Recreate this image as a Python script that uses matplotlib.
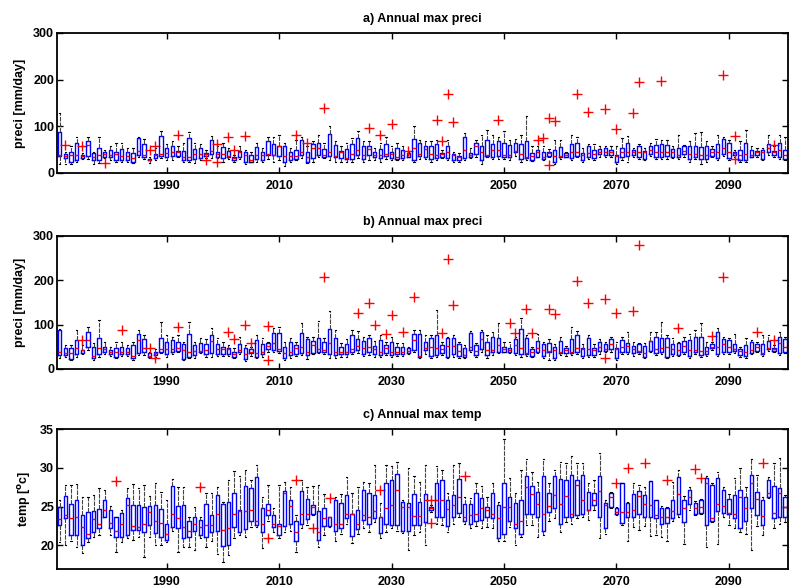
import matplotlib
matplotlib.use('Agg')
import matplotlib.pyplot as plt

plt.rcParams['font.family'] = ['Liberation Sans', 'DejaVu Sans']
plt.rcParams['font.weight'] = 'bold'
plt.rcParams['axes.titleweight'] = 'bold'
plt.rcParams['axes.labelweight'] = 'bold'
plt.rcParams['font.size'] = 9

years = list(range(1971, 2101))

# a) annual max precipitation, box statistics per year [mm/day]
a_lo = [19, 19, 19, 24, 29, 29, 19, 21, 32, 28, 23, 23, 23, 21, 34, 29, 21, 27, 32, 27,
        28, 34, 23, 24, 21, 28, 32, 32, 32, 24, 29, 24, 29, 19, 23, 24, 23, 29, 23, 28,
        16, 23, 27, 32, 21, 24, 34, 32, 28, 24, 24, 24, 24, 32, 24, 28, 28, 24, 29, 27,
        27, 28, 34, 24, 29, 29, 24, 27, 32, 27, 24, 23, 28, 32, 34, 19, 34, 29, 29, 29,
        27, 37, 23, 28, 26, 34, 27, 34, 19, 29, 34, 27, 34, 23, 29, 28, 35, 34, 34, 19,
        28, 23, 35, 29, 27, 37, 29, 29, 29, 32, 29, 35, 23, 29, 19, 24, 34, 27, 37, 28,
        35, 24, 23, 34, 35, 27, 39, 35, 29, 27]
a_q1 = [37, 32, 24, 28, 32, 37, 27, 27, 35, 35, 27, 28, 28, 24, 39, 35, 27, 32, 37, 35,
        37, 37, 28, 28, 30, 32, 37, 41, 35, 33, 35, 28, 34, 24, 24, 30, 27, 39, 39, 37,
        24, 27, 30, 39, 24, 32, 39, 35, 37, 34, 32, 30, 30, 39, 30, 39, 34, 32, 37, 32,
        30, 32, 35, 28, 37, 35, 30, 32, 35, 32, 28, 27, 32, 35, 41, 28, 37, 35, 37, 35,
        35, 44, 30, 32, 28, 35, 30, 37, 24, 34, 35, 32, 37, 27, 35, 32, 41, 39, 39, 24,
        35, 37, 39, 35, 30, 41, 34, 35, 37, 35, 35, 41, 30, 35, 30, 30, 37, 32, 41, 32,
        39, 28, 27, 35, 39, 30, 46, 39, 35, 30]
a_med = [38, 37, 39, 39, 37, 59, 35, 39, 41, 39, 41, 37, 37, 33, 48, 39, 28, 39, 41, 42,
         46, 46, 35, 35, 40, 41, 40, 48, 41, 41, 37, 33, 44, 39, 27, 39, 39, 41, 39, 57,
         37, 37, 37, 46, 35, 53, 53, 39, 46, 37, 44, 32, 41, 50, 39, 51, 39, 39, 41, 41,
         35, 39, 41, 53, 41, 51, 41, 39, 41, 46, 39, 35, 50, 39, 57, 46, 39, 50, 50, 39,
         39, 48, 41, 35, 37, 44, 35, 42, 37, 37, 39, 46, 46, 39, 42, 41, 46, 44, 46, 37,
         46, 46, 46, 46, 44, 50, 46, 46, 46, 46, 39, 48, 41, 41, 39, 39, 44, 44, 53, 46,
         42, 39, 41, 39, 44, 46, 53, 44, 50, 39]
a_q3 = [88, 41, 46, 64, 39, 68, 42, 53, 45, 50, 46, 51, 44, 42, 75, 63, 30, 40, 80, 53,
        57, 48, 48, 75, 51, 53, 42, 71, 46, 55, 48, 35, 48, 44, 39, 55, 46, 68, 63, 57,
        57, 44, 50, 71, 44, 63, 64, 51, 84, 60, 48, 51, 63, 75, 57, 58, 46, 51, 63, 46,
        53, 50, 42, 73, 64, 58, 57, 63, 42, 57, 41, 37, 78, 42, 64, 57, 71, 63, 68, 65,
        60, 65, 63, 68, 42, 50, 46, 46, 50, 55, 42, 63, 65, 42, 57, 50, 51, 53, 50, 39,
        53, 65, 50, 57, 48, 57, 60, 63, 60, 51, 53, 57, 58, 57, 55, 57, 51, 63, 73, 64,
        46, 50, 65, 50, 48, 50, 63, 48, 64, 50]
a_hi = [129, 46, 58, 77, 42, 77, 46, 77, 50, 57, 64, 64, 53, 53, 78, 73, 34, 53, 91, 63,
        68, 57, 64, 87, 64, 63, 50, 80, 57, 64, 53, 39, 57, 50, 44, 64, 53, 78, 77, 82,
        64, 53, 71, 78, 57, 68, 82, 64, 101, 68, 57, 64, 75, 89, 68, 68, 53, 64, 77, 57,
        64, 57, 44, 100, 71, 68, 68, 71, 50, 71, 46, 42, 86, 53, 71, 82, 93, 82, 77, 89,
        71, 73, 82, 122, 57, 57, 57, 51, 71, 71, 46, 82, 78, 53, 63, 63, 58, 57, 57, 57,
        75, 80, 53, 63, 53, 64, 73, 71, 71, 57, 82, 60, 68, 86, 87, 68, 57, 82, 78, 71,
        50, 68, 93, 57, 53, 53, 82, 57, 82, 78]
a_out_year = [1972, 1975, 1979, 1987, 1988, 1992, 1997, 1999, 1999, 2001, 2002, 2004,
              2013, 2015, 2018, 2026, 2028, 2030, 2033, 2038, 2039, 2040, 2041, 2049,
              2056, 2057, 2058, 2058, 2059, 2063, 2065, 2068, 2070, 2073, 2074, 2078,
              2089, 2091, 2091, 2098]
a_out_val = [60, 58, 21, 50, 57, 82, 28, 63, 23, 77, 50, 80,
             82, 65, 140, 96, 82, 104, 47, 114, 68, 170, 109, 114,
             71, 75, 118, 17, 111, 170, 130, 137, 94, 129, 195, 197,
             211, 80, 30, 60]

# b) annual max precipitation, second series [mm/day]
b_lo = [25.5, 28, 20, 28, 33, 43, 20, 28, 33, 30, 25.5, 30, 30, 20, 31.5, 31.5, 24, 28, 35, 28,
        33, 37.5, 20, 24, 25.5, 35, 28, 28, 30, 30, 30, 24, 33, 18, 30, 24, 28, 39, 39, 35,
        20, 25.5, 30, 31.5, 22.5, 33, 35, 33, 24, 25.5, 28, 28, 33, 35, 30, 31.5, 28, 28, 31.5, 28,
        30, 30, 33, 39, 24, 33, 24, 28, 31.5, 25.5, 28, 25.5, 24, 39, 28, 39, 25.5, 31.5, 35, 37.5,
        35, 31.5, 28, 30, 28, 35, 25.5, 20, 20, 31.5, 30, 31.5, 33, 25.5, 28, 28, 33, 37.5, 39, 20,
        33, 33, 30, 33, 24, 37.5, 31.5, 33, 24, 30, 30, 33, 25.5, 33, 28, 30, 43, 30, 33, 33,
        35, 28, 25.5, 33, 37.5, 30, 40.5, 37.5, 31.5, 35]
b_q1 = [31.5, 31.5, 22.5, 33, 35, 50, 24, 33, 37.5, 33, 28, 33, 33, 24, 35, 37.5, 28, 31.5, 39, 33,
        39, 40.5, 22.5, 28, 31.5, 39, 33, 35, 33, 33, 33, 28, 39, 22.5, 35, 28, 33, 45, 43, 40.5,
        24, 31.5, 33, 35, 31.5, 35, 39, 39, 33, 31.5, 33, 33, 37.5, 43, 33, 37.5, 33, 31.5, 35, 31.5,
        33, 33, 35, 43, 28, 43, 30, 31.5, 35, 28, 33, 30, 28, 43, 31.5, 45, 31.5, 37.5, 39, 39,
        39, 35, 33, 33, 30, 39, 30, 37.5, 25, 35, 35, 35, 37.5, 30, 31.5, 31.5, 40.5, 40.5, 45, 24,
        39, 37.5, 35, 37.5, 28, 40.5, 35, 37.5, 28, 33, 31.5, 37.5, 30, 39, 31.5, 33, 46.5, 33, 39, 37.5,
        40.5, 31.5, 30, 35, 40.5, 33, 45, 40.5, 35, 39]
b_med = [37.5, 35, 35, 46.5, 43, 65, 30, 46.5, 45, 39, 39, 39, 39, 30, 65, 46.5, 30, 35, 45, 45,
         45, 48, 43, 39, 40.5, 40.5, 43, 63, 45, 45, 45, 33, 43, 33, 39, 35, 39, 52.5, 58, 45,
         35, 39, 46.5, 50, 39, 54, 45, 43, 58, 37.5, 39, 37.5, 45, 52.5, 46.5, 50, 45, 37.5, 48, 39,
         39, 39, 40.5, 65, 30, 46.5, 50, 48, 45, 52.5, 52.5, 40.5, 31.5, 50, 40.5, 67, 43, 43, 54, 45,
         43, 54, 48, 35, 39, 48, 43, 40.5, 43, 39, 43, 39, 48, 45, 45, 43, 50, 45, 55.5, 45,
         50, 52.5, 45, 40.5, 35, 63, 45, 46.5, 50, 45, 43, 52.5, 43, 43, 40.5, 40.5, 50, 50, 55.5, 50,
         45, 40.5, 39, 43, 50, 35, 48, 45, 58, 50]
b_q3 = [88, 48, 48, 65, 43, 84, 50, 70, 50, 43, 48, 50, 48, 54, 80, 67, 35, 39, 69, 61.5,
        65, 61.5, 55.5, 80, 54, 58, 55.5, 76.5, 55.5, 50, 48, 39, 55.5, 48, 45, 65, 55.5, 58, 82, 82,
        50, 61.5, 54, 82, 67, 63, 70, 61.5, 90, 70, 50, 55.5, 76.5, 67, 63, 69, 52.5, 65, 54, 61.5,
        50, 50, 46.5, 80, 80, 61.5, 69, 76.5, 54, 69, 70, 55.5, 46.5, 82, 54, 84, 61.5, 73, 69, 50,
        46.5, 67, 90, 69, 45, 64, 55.5, 58, 50, 63, 46.5, 67, 76.5, 48, 70, 48, 60, 55.5, 67, 48,
        65, 58, 52.5, 55.5, 52.5, 63, 73, 70.5, 69, 55.5, 58, 63, 65, 73, 73, 50, 55.5, 84, 67, 65,
        55.5, 45, 54, 61.5, 55.5, 55.5, 63, 48, 73, 67]
b_hi = [90, 54, 54, 88, 54, 95, 58, 110, 61.5, 50, 61.5, 61.5, 54, 61.5, 88, 76.5, 39, 45, 106, 76.5,
        73, 76.5, 61.5, 106, 61.5, 69, 67.5, 93, 69, 61.5, 54, 46.5, 73, 54, 50, 76.5, 69, 61.5, 92, 95,
        61.5, 69, 61.5, 103, 73, 73, 108, 69, 130, 88, 58, 67.5, 88, 85, 73, 76.5, 63, 76.5, 61.5, 73,
        58, 58, 50, 88, 88, 76.5, 76.5, 133, 61.5, 73, 76.5, 61.5, 54, 85.5, 58, 88, 76.5, 84, 103, 61.5,
        61.5, 72, 114, 76.5, 50, 78, 61.5, 67.5, 55.5, 73, 52.5, 95, 85.5, 55.5, 76.5, 55.5, 67.5, 61.5, 73, 61.5,
        73, 84, 61.5, 58, 58, 84, 82.5, 106, 76.5, 69, 61.5, 73, 78, 88, 103, 61.5, 61.5, 92, 73, 69,
        80, 50, 69, 65, 61.5, 76.5, 76.5, 54, 84, 73]
b_out_year = [1975, 1982, 1987, 1988, 1992, 2001, 2002, 2004, 2005, 2008, 2008, 2018,
              2024, 2026, 2027, 2029, 2030, 2032, 2034, 2039, 2040, 2041, 2051, 2052,
              2054, 2055, 2058, 2059, 2063, 2065, 2068, 2068, 2070, 2073, 2074, 2081,
              2087, 2089, 2095, 2098]
b_out_val = [65, 88, 48, 24, 95, 84, 67, 99, 58, 97, 20, 208,
             127, 148, 99, 78, 122, 84, 163, 82, 247, 145, 103, 82,
             136, 82, 136, 125, 198, 148, 157, 24, 127, 130, 280, 92,
             74, 208, 84, 65]

# c) annual max temperature [deg C]
c_lo = [20.4, 20.1, 20.6, 19.8, 19.0, 20.4, 21.1, 21.3, 23.6, 21.3, 19.1, 20.4, 21.0, 20.7, 21.1, 18.5, 21.1, 20.0, 20.1, 20.4,
        21.9, 19.1, 19.8, 19.8, 19.4, 20.9, 19.8, 20.6, 18.9, 17.9, 18.7, 21.0, 21.3, 21.1, 22.4, 22.4, 19.6, 23.2, 21.7, 20.9,
        21.7, 21.9, 19.1, 22.2, 22.6, 23.9, 19.8, 21.3, 22.4, 20.6, 21.5, 22.8, 20.3, 21.5, 22.2, 21.7, 23.0, 21.0, 21.7, 22.2,
        21.9, 21.6, 19.4, 21.3, 21.7, 20.0, 24.3, 22.8, 22.6, 21.7, 22.8, 23.7, 22.8, 22.2, 22.5, 22.2, 22.4, 22.2, 20.6, 20.6,
        22.4, 20.0, 21.1, 22.6, 22.6, 21.1, 21.3, 23.2, 23.5, 21.7, 23.0, 22.8, 23.5, 23.7, 23.3, 24.5, 20.9, 21.5, 24.8, 23.9,
        22.6, 20.6, 22.4, 22.0, 22.5, 21.2, 21.3, 21.1, 20.6, 23.2, 23.7, 20.2, 24.5, 23.9, 24.0, 19.8, 23.0, 20.2, 23.6, 22.6,
        22.2, 21.7, 21.5, 19.4, 22.5, 21.3, 26.1, 22.2, 22.8, 23.0]
c_q1 = [22.6, 23.5, 21.3, 21.3, 20.1, 21.0, 21.7, 22.3, 23.7, 22.2, 21.1, 21.1, 21.3, 22.0, 22.0, 21.7, 22.6, 21.6, 21.1, 20.7,
        22.4, 22.2, 20.9, 21.1, 21.9, 21.3, 21.1, 21.7, 21.9, 19.9, 20.1, 22.4, 21.7, 22.1, 23.2, 22.6, 21.7, 23.9, 22.4, 21.3,
        22.5, 22.7, 20.6, 22.7, 23.4, 24.0, 20.7, 22.5, 22.5, 21.9, 22.3, 23.5, 21.2, 22.1, 23.3, 22.8, 23.5, 21.6, 22.8, 22.6,
        22.6, 21.8, 21.9, 22.6, 22.6, 23.0, 24.5, 23.6, 23.6, 22.5, 23.6, 24.2, 23.2, 22.7, 23.2, 23.3, 23.7, 23.5, 20.9, 21.5,
        23.2, 22.2, 21.5, 24.1, 24.1, 23.6, 21.9, 24.3, 24.8, 22.8, 23.7, 23.6, 23.9, 24.1, 24.5, 25.2, 23.6, 22.2, 24.9, 24.1,
        22.9, 23.6, 23.7, 24.0, 23.7, 23.6, 23.5, 22.7, 22.9, 23.5, 24.1, 23.0, 25.3, 24.1, 24.2, 22.6, 23.2, 24.4, 24.2, 24.1,
        23.5, 22.3, 23.2, 24.8, 23.9, 22.6, 26.2, 23.5, 23.6, 23.7]
c_med = [23.4, 23.9, 23.5, 23.6, 22.4, 21.5, 23.4, 22.8, 24.5, 22.9, 21.9, 22.7, 25.2, 22.5, 22.4, 22.8, 24.3, 23.2, 22.9, 21.5,
         24.0, 23.5, 22.4, 21.9, 22.7, 22.4, 22.6, 22.6, 24.0, 22.0, 22.2, 24.1, 24.4, 24.4, 24.5, 23.1, 22.7, 24.6, 22.8, 22.5,
         26.7, 25.1, 21.7, 24.1, 24.1, 25.0, 21.7, 23.5, 23.6, 22.7, 22.7, 24.0, 24.0, 22.8, 23.9, 23.7, 24.4, 23.7, 24.8, 25.2,
         27.2, 25.0, 25.0, 23.8, 23.8, 25.8, 24.8, 25.8, 25.9, 24.7, 25.2, 26.3, 23.7, 23.9, 24.1, 24.8, 24.5, 24.0, 23.5, 24.9,
         24.9, 22.8, 23.2, 27.5, 26.6, 25.3, 24.1, 25.1, 26.5, 25.4, 26.4, 24.0, 27.8, 25.9, 24.6, 25.8, 27.0, 25.2, 26.3, 24.3,
         24.3, 24.3, 24.5, 26.4, 25.3, 25.2, 23.9, 23.7, 23.7, 24.4, 26.6, 24.8, 26.2, 24.8, 24.9, 28.0, 23.5, 25.3, 25.1, 24.2,
         24.0, 26.2, 24.8, 28.0, 26.0, 23.8, 26.8, 24.2, 26.7, 25.0]
c_q3 = [25.0, 26.4, 25.3, 25.8, 23.9, 24.3, 24.4, 24.7, 25.8, 24.5, 23.7, 24.2, 26.1, 25.2, 25.2, 25.0, 25.1, 25.2, 24.7, 22.7,
        27.7, 25.1, 25.2, 23.2, 23.7, 23.3, 25.3, 23.9, 26.5, 25.3, 25.6, 26.8, 24.5, 27.7, 27.4, 28.8, 24.8, 25.3, 23.9, 22.8,
        27.0, 25.9, 23.1, 27.0, 26.0, 25.2, 24.4, 24.8, 23.6, 25.8, 25.5, 26.5, 24.1, 24.5, 27.1, 26.8, 26.5, 23.7, 28.1, 28.5,
        29.2, 25.6, 25.5, 26.6, 25.6, 26.6, 25.0, 28.0, 28.5, 25.9, 26.5, 28.6, 25.3, 25.3, 26.7, 26.1, 25.0, 26.8, 25.2, 28.1,
        26.2, 25.5, 25.9, 28.9, 27.7, 26.9, 29.0, 26.7, 28.9, 28.6, 28.4, 29.1, 28.4, 29.1, 26.9, 26.8, 29.0, 25.5, 26.7, 24.8,
        28.0, 25.5, 26.6, 27.0, 26.5, 28.3, 25.8, 24.8, 24.8, 25.9, 28.8, 25.8, 27.2, 25.5, 25.8, 28.7, 27.8, 28.7, 27.1, 26.0,
        26.5, 27.1, 26.3, 29.1, 26.9, 25.9, 28.4, 27.7, 27.4, 26.3]
c_hi = [25.8, 27.8, 27.8, 27.9, 26.3, 26.3, 26.5, 27.4, 27.2, 25.1, 23.7, 24.5, 27.4, 27.9, 27.4, 27.8, 26.4, 28.0, 26.9, 25.9,
        28.6, 27.5, 27.5, 23.7, 25.0, 23.7, 26.7, 26.7, 27.5, 25.6, 28.4, 29.6, 29.0, 29.7, 28.5, 30.4, 26.3, 27.8, 24.8, 27.8,
        28.2, 27.5, 23.9, 28.4, 27.5, 27.7, 27.8, 26.6, 23.7, 26.3, 26.6, 28.8, 26.8, 27.5, 28.2, 28.0, 30.4, 25.5, 30.4, 30.2,
        30.8, 25.8, 30.0, 28.9, 28.2, 30.4, 25.2, 30.2, 29.7, 26.7, 30.4, 30.7, 26.3, 26.1, 28.0, 27.7, 26.3, 28.0, 25.6, 33.7,
        28.7, 26.7, 29.7, 31.1, 29.5, 28.2, 31.1, 28.1, 29.7, 30.8, 30.6, 31.6, 30.6, 30.6, 28.1, 28.4, 31.9, 25.8, 26.9, 25.0,
        28.1, 25.6, 28.0, 27.8, 27.5, 28.3, 25.8, 25.1, 25.0, 28.2, 29.7, 26.4, 27.5, 25.7, 26.0, 28.9, 28.0, 29.5, 27.5, 26.6,
        28.7, 30.0, 27.6, 31.1, 29.1, 26.3, 28.8, 30.6, 31.3, 26.5]
c_out_year = [1981, 1996, 2008, 2013, 2016, 2019, 2028, 2037, 2037, 2043,
              2070, 2072, 2075, 2079, 2084, 2085, 2096]
c_out_val = [28.3, 27.5, 20.9, 28.5, 22.2, 26.1, 27.1, 25.8, 22.9, 28.9,
             28.1, 30.0, 30.7, 28.4, 29.9, 28.7, 30.7]


def make_stats(lo, q1, med, q3, hi, out_year, out_val):
    stats = []
    for k, yr in enumerate(years):
        fl = [v for y, v in zip(out_year, out_val) if y == yr]
        stats.append(dict(whislo=lo[k], q1=q1[k], med=med[k], q3=q3[k],
                          whishi=hi[k], fliers=fl))
    return stats


def draw_panel(ax, stats, title, ylabel, ylim, yticks):
    ax.bxp(stats, positions=years, widths=0.6, capwidths=0.25,
           showfliers=True, manage_ticks=False,
           boxprops=dict(color='#0000ff', linewidth=1.0),
           medianprops=dict(color='red', linewidth=1.0),
           whiskerprops=dict(color='#444444', linewidth=0.8, linestyle=(0, (4, 1))),
           capprops=dict(color='black', linewidth=0.8),
           flierprops=dict(marker='+', markeredgecolor='red', markersize=7,
                           markeredgewidth=1.0))
    ax.set_xlim(1970.5, 2100.5)
    ax.set_ylim(*ylim)
    ax.set_yticks(yticks)
    ax.set_xticks([1990, 2010, 2030, 2050, 2070, 2090])
    ax.tick_params(direction='in', top=True, right=True, length=4, width=1,
                   labelsize=9)
    ax.tick_params(axis='x', pad=5)
    ax.tick_params(axis='y', pad=2)
    for s in ax.spines.values():
        s.set_linewidth(1.3)
    ax.set_title(title, fontsize=9, pad=8)
    ax.set_ylabel(ylabel, fontsize=9, labelpad=5)


fig = plt.figure(figsize=(7.89, 5.87), dpi=100)
ax1 = fig.add_axes([0.0722, 0.7053, 0.9265, 0.2385])
ax2 = fig.add_axes([0.0722, 0.3714, 0.9265, 0.2266])
ax3 = fig.add_axes([0.0722, 0.0302, 0.9265, 0.2385])

draw_panel(ax1, make_stats(a_lo, a_q1, a_med, a_q3, a_hi, a_out_year, a_out_val),
           'a) Annual max preci', 'preci [mm/day]', (0, 300), [0, 100, 200, 300])
draw_panel(ax2, make_stats(b_lo, b_q1, b_med, b_q3, b_hi, b_out_year, b_out_val),
           'b) Annual max preci', 'preci [mm/day]', (0, 300), [0, 100, 200, 300])
draw_panel(ax3, make_stats(c_lo, c_q1, c_med, c_q3, c_hi, c_out_year, c_out_val),
           'c) Annual max temp', r'temp [$^{\mathbf{o}}$c]', (16.9, 35), [20, 25, 30, 35])

fig.savefig('out.png', dpi=100)
